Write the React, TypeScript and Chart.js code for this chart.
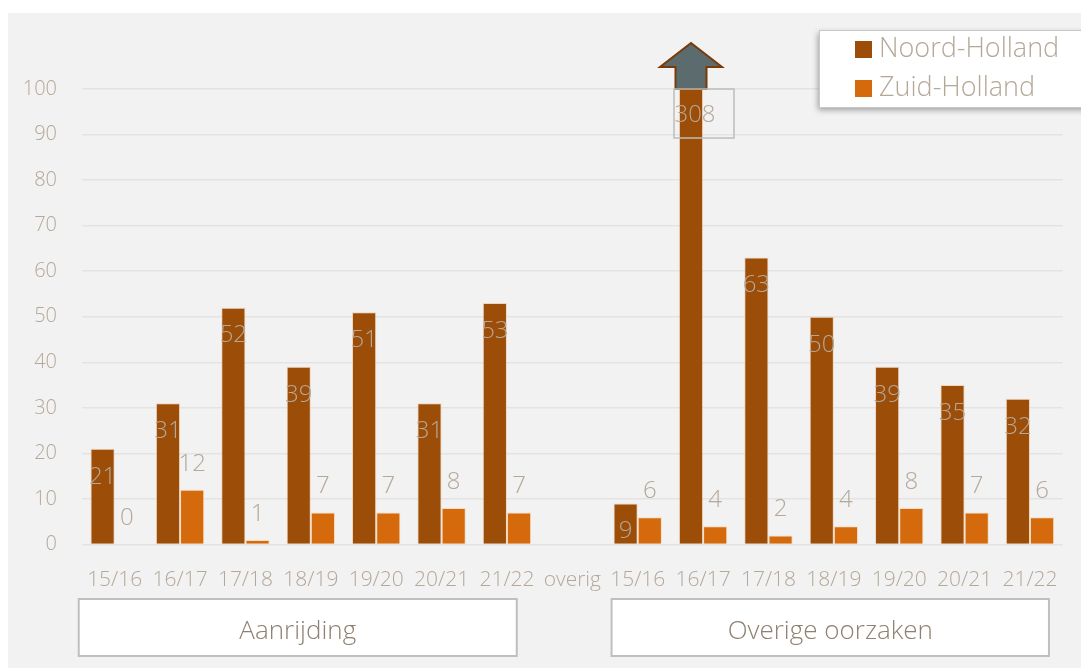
import React, { useEffect, useRef } from "react";
import { Chart, registerables } from "chart.js";

Chart.register(...registerables);

const categories = ["15/16", "16/17", "17/18", "18/19", "19/20", "20/21", "21/22", "overig", "15/16", "16/17", "17/18", "18/19", "19/20", "20/21", "21/22"];
const noordHolland = [21, 31, 52, 39, 51, 31, 53, null, 9, 308, 63, 50, 39, 35, 32];
const zuidHolland = [0, 12, 1, 7, 7, 8, 7, null, 6, 4, 2, 4, 8, 7, 6];
const seriesNames = ["Noord-Holland", "Zuid-Holland"];
const groupNames = ["Aanrijding", "Overige oorzaken"];
const groupStart = [0, 8];
const groupEnd = [6, 14];
const yMax = 100;

const NH_COLOR = "#9C4D08";
const ZH_COLOR = "#D46A0C";
const LABEL_COLOR = "#B4A899";
const FONT = "'Open Sans', 'Noto Sans', sans-serif";

const decorPlugin = {
  id: "decor",
  beforeDraw(chart: any) {
    const ctx = chart.ctx;
    ctx.save();
    ctx.fillStyle = "#ffffff";
    ctx.fillRect(0, 0, chart.width, chart.height);
    ctx.fillStyle = "#F2F2F2";
    ctx.fillRect(8, 13, chart.width - 8, chart.height - 13);
    ctx.restore();
  },
  afterDatasetsDraw(chart: any) {
    const ctx = chart.ctx;
    const area = chart.chartArea;
    const xScale = chart.scales.x;
    ctx.save();
    ctx.font = `300 24px ${FONT}`;
    ctx.fillStyle = LABEL_COLOR;
    ctx.textAlign = "center";
    ctx.textBaseline = "middle";
    const m0 = chart.getDatasetMeta(0);
    m0.data.forEach((bar: any, i: number) => {
      const v = noordHolland[i];
      if (v == null) return;
      if (v > yMax) {
        const x = bar.x;
        const top = area.top;
        ctx.beginPath();
        ctx.moveTo(x - 15.5, top);
        ctx.lineTo(x - 15.5, top - 22);
        ctx.lineTo(x - 31, top - 22);
        ctx.lineTo(x, top - 46);
        ctx.lineTo(x + 31, top - 22);
        ctx.lineTo(x + 15.5, top - 22);
        ctx.lineTo(x + 15.5, top);
        ctx.closePath();
        ctx.fillStyle = "#5B6B6E";
        ctx.fill();
        ctx.strokeStyle = "#7A3A06";
        ctx.lineWidth = 2;
        ctx.stroke();
        ctx.strokeStyle = "#BDBDBD";
        ctx.lineWidth = 1.5;
        ctx.strokeRect(x - 17, top, 60, 49);
        ctx.fillStyle = LABEL_COLOR;
        ctx.fillText(String(v), x + 4, top + 26);
        return;
      }
      ctx.fillStyle = LABEL_COLOR;
      ctx.fillText(String(v), bar.x, bar.y + 28);
    });
    const m1 = chart.getDatasetMeta(1);
    m1.data.forEach((bar: any, i: number) => {
      const v = zuidHolland[i];
      if (v == null) return;
      ctx.fillStyle = LABEL_COLOR;
      ctx.fillText(String(v), bar.x, bar.y - 26);
    });

    const catW = xScale.getPixelForTick(1) - xScale.getPixelForTick(0);
    const pads = [[-0.55, 0.15], [-0.4, 0.29]];
    groupNames.forEach((name, g) => {
      const l = xScale.getPixelForTick(groupStart[g]) + pads[g][0] * catW;
      const r = xScale.getPixelForTick(groupEnd[g]) + pads[g][1] * catW;
      const t = 599;
      const b = 656;
      ctx.fillStyle = "#ffffff";
      ctx.fillRect(l, t, r - l, b - t);
      ctx.strokeStyle = "#BFBFBF";
      ctx.lineWidth = 2;
      ctx.strokeRect(l, t, r - l, b - t);
      ctx.fillStyle = "#8E8072";
      ctx.font = `300 26px ${FONT}`;
      ctx.textAlign = "center";
      ctx.textBaseline = "middle";
      ctx.fillText(name, (l + r) / 2, 632);
    });

    ctx.save();
    ctx.shadowColor = "rgba(0,0,0,0.35)";
    ctx.shadowBlur = 6;
    ctx.shadowOffsetX = -1;
    ctx.shadowOffsetY = 3;
    ctx.fillStyle = "#ffffff";
    ctx.fillRect(819, 30, 280, 77);
    ctx.restore();
    ctx.strokeStyle = "#C8C8C8";
    ctx.lineWidth = 1;
    ctx.strokeRect(819.5, 30.5, 280, 77);
    const colors = [NH_COLOR, ZH_COLOR];
    const ys = [49.5, 88.5];
    ctx.font = `300 27px ${FONT}`;
    ctx.textAlign = "left";
    ctx.textBaseline = "middle";
    seriesNames.forEach((n, k) => {
      ctx.fillStyle = colors[k];
      ctx.fillRect(855, ys[k] - 8.5, 17, 17);
      ctx.fillStyle = LABEL_COLOR;
      ctx.fillText(n, 879, ys[k]);
    });
    ctx.restore();
  },
};

export default function App() {
  const ref = useRef<HTMLCanvasElement | null>(null);
  useEffect(() => {
    if (!ref.current) return;
    const chart = new Chart(ref.current, {
      type: "bar",
      data: {
        labels: categories,
        datasets: [
          {
            label: seriesNames[0],
            data: noordHolland as any,
            backgroundColor: NH_COLOR,
            borderColor: "rgba(240,190,140,0.55)",
            borderWidth: 1,
          },
          {
            label: seriesNames[1],
            data: zuidHolland as any,
            backgroundColor: ZH_COLOR,
            borderColor: "rgba(250,200,150,0.55)",
            borderWidth: 1,
          },
        ],
      },
      options: {
        animation: false,
        responsive: false,
        maintainAspectRatio: false,
        layout: { padding: { left: 0, right: 14, top: 89, bottom: 0 } },
        datasets: { bar: { categoryPercentage: 0.74, barPercentage: 1 } },
        plugins: {
          legend: { display: false },
          tooltip: { enabled: false },
          title: { display: false },
        },
        scales: {
          x: {
            grid: { display: false, drawTicks: false },
            border: { display: false },
            ticks: {
              color: LABEL_COLOR,
              font: { family: FONT, size: 21, weight: 300 as any },
              padding: 23,
              maxRotation: 0,
              autoSkip: false,
            },
            afterFit(scale: any) {
              scale.height = 123.5;
            },
          },
          y: {
            min: 0,
            max: yMax,
            grid: { color: "#E3E3E3", lineWidth: 1.5, drawTicks: false },
            border: { display: false },
            ticks: {
              stepSize: 10,
              color: LABEL_COLOR,
              font: { family: FONT, size: 20, weight: 300 as any },
              padding: 25,
            },
            afterFit(scale: any) {
              scale.width = 82;
            },
          },
        },
      },
      plugins: [decorPlugin],
    });
    return () => chart.destroy();
  }, []);
  return (
    <div style={{ position: "absolute", left: 0, top: 0, width: 1081, height: 668 }}>
      <canvas ref={ref} width={1081} height={668} style={{ width: 1081, height: 668, display: "block" }} />
    </div>
  );
}
